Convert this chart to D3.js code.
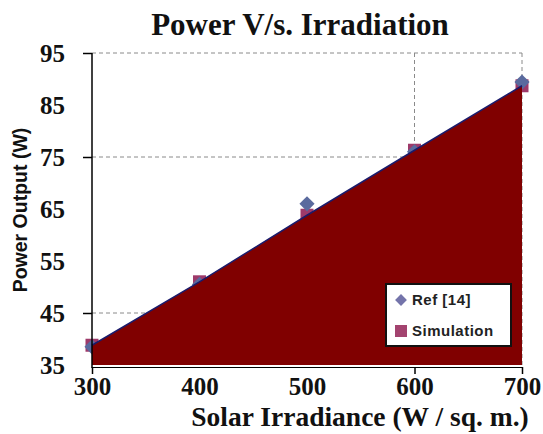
<!DOCTYPE html>
<html>
<head>
<meta charset="utf-8">
<script src="https://cdn.jsdelivr.net/npm/d3@7"></script>
<style>
  html, body { margin: 0; padding: 0; background: #fff; }
  svg { display: block; }
</style>
</head>
<body>
<svg id="chart" width="543" height="434"></svg>
<script>
// ---- data ----
const irradiance = [300, 400, 500, 600, 700];
const refValues = [38.5, 50.5, 66, 76, 89.4];
const simValues = [38.8, 51, 63.8, 76.3, 88.7];
const yTickLabels = [35, 45, 55, 65, 75, 85, 95];
const yMajorTicks = [45, 75, 95];
const xTickLabels = [300, 400, 500, 600, 700];
const xMajorTicks = [600, 700];
const titleText = "Power V/s. Irradiation";
const xTitle = "Solar Irradiance (W / sq. m.)";
const yTitle = "Power Output (W)";
const seriesNames = ["Ref [14]", "Simulation"];

const svg = d3.select("#chart");
const pLeft = 92, pRight = 522, pTop = 53, pBottom = 365;

const x = d3.scaleLinear().domain([300, 700]).range([pLeft, pRight]);
const y = d3.scaleLinear().domain([35, 95]).range([pBottom, pTop]);

const serif = "'Liberation Serif', 'Times New Roman', serif";
const sans = "'Liberation Sans', Arial, sans-serif";

// gridlines (dashed)
const grid = svg.append("g");
grid.selectAll("line.h").data(yMajorTicks).join("line").attr("class", "h")
  .attr("x1", pLeft).attr("x2", pRight)
  .attr("y1", d => y(d)).attr("y2", d => y(d))
  .attr("stroke", "#8a8a8a").attr("stroke-width", 1).attr("stroke-dasharray", "4,3");
grid.selectAll("line.v").data(xMajorTicks).join("line").attr("class", "v")
  .attr("x1", d => x(d)).attr("x2", d => x(d))
  .attr("y1", pTop).attr("y2", pBottom)
  .attr("stroke", "#8a8a8a").attr("stroke-width", 1).attr("stroke-dasharray", "4,3");

// markers (behind area)
const pts = irradiance.map((v, i) => ({x: v, ref: refValues[i], sim: simValues[i]}));
svg.append("g").selectAll("rect").data(pts).join("rect")
  .attr("x", d => x(d.x) - 6.5).attr("y", d => y(d.sim) - 6.5)
  .attr("width", 13).attr("height", 13)
  .attr("fill", "#9e3a6a");
const diamond = d3.symbol().type(d3.symbolSquare).size(115);
svg.append("g").selectAll("path").data(pts).join("path")
  .attr("d", diamond)
  .attr("transform", d => `translate(${x(d.x)},${y(d.ref)}) rotate(45)`)
  .attr("fill", "#5a6a9e");

// area
const area = d3.area().x(d => x(d.x)).y0(y(35)).y1(d => y(d.sim));
svg.append("path").datum(pts).attr("d", area).attr("fill", "#800000");
const line = d3.line().x(d => x(d.x)).y(d => y(d.sim));
svg.append("path").datum(pts).attr("d", line)
  .attr("fill", "none").attr("stroke", "#1b1b6b").attr("stroke-width", 1.5);

// y axis
const yAxisLabels = d3.axisLeft(y).tickValues(yTickLabels).tickSize(0).tickPadding(27);
const gy = svg.append("g").attr("transform", `translate(${pLeft},0)`).call(yAxisLabels);
gy.select(".domain").remove();
gy.selectAll("text").attr("font-family", serif).attr("font-weight", "bold")
  .attr("font-size", 25).attr("fill", "#111");
const yAxisTicks = d3.axisLeft(y).tickValues(yMajorTicks).tickSize(9).tickFormat("");
const gyt = svg.append("g").attr("transform", `translate(${pLeft},0)`).call(yAxisTicks);
gyt.select(".domain").remove();
gyt.selectAll("line").attr("stroke", "#000").attr("stroke-width", 1.5);
svg.append("line").attr("x1", pLeft).attr("x2", pLeft).attr("y1", pTop).attr("y2", pBottom + 3)
  .attr("stroke", "#000").attr("stroke-width", 1.5);

// x axis
const xAxisLabels = d3.axisBottom(x).tickValues(xTickLabels).tickSize(0).tickPadding(10);
const gx = svg.append("g").attr("transform", `translate(0,${pBottom + 2})`).call(xAxisLabels);
gx.select(".domain").remove();
gx.selectAll("text").attr("font-family", serif).attr("font-weight", "bold")
  .attr("font-size", 25).attr("fill", "#111");
const xAxisTicks = d3.axisBottom(x).tickValues([300].concat(xMajorTicks)).tickSize(7).tickFormat("");
const gxt = svg.append("g").attr("transform", `translate(0,${pBottom + 2})`).call(xAxisTicks);
gxt.select(".domain").attr("stroke", "#000").attr("stroke-width", 1);
gxt.selectAll("line").attr("stroke", "#000").attr("stroke-width", 1.5);

// title
svg.append("text").attr("x", 300).attr("y", 35).attr("text-anchor", "middle")
  .attr("font-family", serif).attr("font-weight", "bold").attr("font-size", 31)
  .attr("fill", "#111").text(titleText);

// axis titles
svg.append("text").attr("x", 360).attr("y", 426).attr("text-anchor", "middle")
  .attr("font-family", serif).attr("font-weight", "bold").attr("font-size", 27.5)
  .attr("fill", "#111").text(xTitle);
svg.append("text").attr("transform", "translate(27,210) rotate(-90)").attr("text-anchor", "middle")
  .attr("font-family", sans).attr("font-weight", "bold").attr("font-size", 19.5)
  .attr("fill", "#111").text(yTitle);

// legend
const lg = svg.append("g");
lg.append("rect").attr("x", 386).attr("y", 284).attr("width", 125).attr("height", 62)
  .attr("fill", "#fff").attr("stroke", "#111").attr("stroke-width", 2);
lg.append("path").attr("d", d3.symbol().type(d3.symbolSquare).size(70))
  .attr("transform", "translate(401,300) rotate(45)").attr("fill", "#7474aa");
lg.append("rect").attr("x", 395).attr("y", 325).attr("width", 12).attr("height", 12)
  .attr("fill", "#a3436f");
lg.selectAll("text").data(seriesNames).join("text")
  .attr("x", 412).attr("y", (d, i) => 305 + i * 31)
  .attr("font-family", sans).attr("font-weight", "bold").attr("font-size", 15)
  .attr("letter-spacing", 0.5).attr("fill", "#222").text(d => d);
</script>
</body>
</html>
